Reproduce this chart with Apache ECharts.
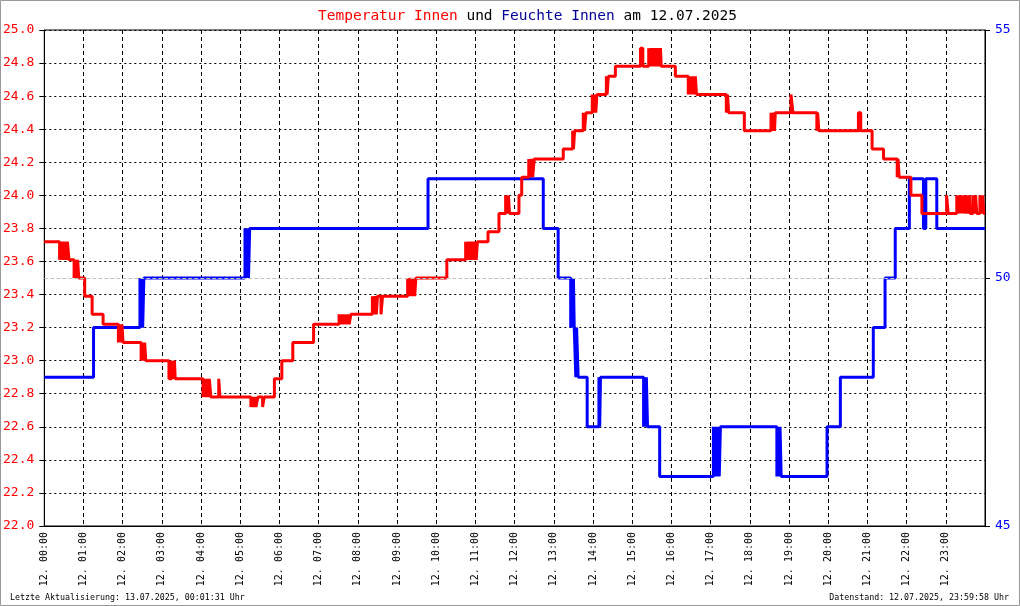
<!DOCTYPE html>
<html>
<head>
<meta charset="utf-8">
<script src="https://cdn.jsdelivr.net/npm/echarts@6/dist/echarts.min.js"></script>
<style>
html,body{margin:0;padding:0;background:#fff;}
#chart{width:1020px;height:606px;}
</style>
</head>
<body>
<div id="chart"></div>
<script>
// Hours of the day (decimal) at which a reading changes, and the reading from then on
const humTimes = [0, 1.256,
  2.44, 2.46, 2.49, 2.51, 2.54,
  5.12, 5.15, 5.18, 5.21, 5.24,
  9.79, 12.73, 13.11,
  13.43, 13.45, 13.48, 13.50, 13.52,
  13.56, 13.58, 13.62, 13.85,
  14.15, 14.17, 14.19,
  15.29, 15.31, 15.34, 15.36, 15.39, 15.70,
  17.07, 17.10, 17.13, 17.16, 17.19, 17.22, 17.25,
  18.69, 18.71, 18.74, 18.77, 18.80,
  19.97, 20.31, 21.15, 21.45, 21.71, 22.07, 22.43, 22.49, 22.77, 24];
const humValues = [48, 49,
  50, 49, 50, 49, 50,
  51, 50, 51, 50, 51,
  52, 51, 50,
  49, 50, 49, 50, 49,
  48, 49, 48, 47,
  48, 47, 48,
  47, 48, 47, 48, 47, 46,
  47, 46, 47, 46, 47, 46, 47,
  46, 47, 46, 47, 46,
  47, 48, 49, 50, 51, 52, 51, 52, 51, 51];

const tempTimes = [0,
  0.39, 0.43, 0.47, 0.51, 0.55, 0.59, 0.63,
  0.76, 0.79, 0.82, 0.85, 0.88,
  1.03, 1.22, 1.50,
  1.89, 1.92, 1.95, 1.98, 2.01,
  2.47, 2.50, 2.53, 2.56, 2.59,
  3.18, 3.25, 3.27, 3.32, 3.34,
  4.05, 4.08, 4.11, 4.14, 4.18, 4.21, 4.25,
  4.45, 4.48,
  5.27, 5.30, 5.33, 5.37, 5.40, 5.45,
  5.57, 5.61,
  5.87, 6.06, 6.34, 6.87,
  7.52, 7.55, 7.59, 7.62, 7.66, 7.70, 7.74, 7.78, 7.82,
  8.37, 8.40, 8.43, 8.47, 8.50, 8.59, 8.63,
  9.27, 9.30, 9.34, 9.38, 9.42, 9.45, 9.48,
  10.27,
  10.75, 10.78, 10.82, 10.86, 10.90, 10.94, 10.98, 11.02, 11.05,
  11.32, 11.60,
  11.77, 11.80, 11.84, 11.87,
  12.11, 12.18,
  12.36, 12.39, 12.43, 12.46, 12.50,
  13.24,
  13.48, 13.50, 13.53,
  13.75, 13.78, 13.82,
  13.98, 14.01, 14.04, 14.07, 14.10,
  14.34, 14.36, 14.39,
  14.57,
  15.21, 15.27,
  15.42, 15.45, 15.48, 15.52, 15.55, 15.58, 15.61, 15.64, 15.67, 15.70, 15.72, 15.74,
  16.10,
  16.43, 16.46, 16.50, 16.54, 16.58, 16.61, 16.64,
  17.40, 17.43, 17.46,
  17.86,
  18.54, 18.57, 18.60, 18.63, 18.65,
  19.05, 19.10,
  19.71, 19.73, 19.76,
  20.77, 20.83,
  21.12, 21.41,
  21.76, 21.78, 21.81,
  22.11, 22.39,
  23.02, 23.06,
  23.28, 23.31, 23.34, 23.37, 23.40, 23.43, 23.46, 23.50, 23.53, 23.57, 23.60, 23.62,
  23.69, 23.72, 23.76, 23.79,
  23.87, 23.92, 23.94, 23.97,
  24];
const tempValues = [23.72,
  23.61, 23.72, 23.61, 23.72, 23.61, 23.72, 23.61,
  23.50, 23.61, 23.50, 23.61, 23.50,
  23.39, 23.28, 23.22,
  23.11, 23.22, 23.11, 23.22, 23.11,
  23.00, 23.11, 23.00, 23.11, 23.00,
  22.89, 23.00, 22.89, 23.00, 22.89,
  22.78, 22.89, 22.78, 22.89, 22.78, 22.89, 22.78,
  22.89, 22.78,
  22.72, 22.78, 22.72, 22.78, 22.72, 22.78,
  22.72, 22.78,
  22.89, 23.00, 23.11, 23.22,
  23.28, 23.22, 23.28, 23.22, 23.28, 23.22, 23.28, 23.22, 23.28,
  23.39, 23.28, 23.39, 23.28, 23.39, 23.28, 23.39,
  23.50, 23.39, 23.50, 23.39, 23.50, 23.39, 23.50,
  23.61,
  23.72, 23.61, 23.72, 23.61, 23.72, 23.61, 23.72, 23.61, 23.72,
  23.78, 23.89,
  24.00, 23.89, 24.00, 23.89,
  24.00, 24.11,
  24.22, 24.11, 24.22, 24.11, 24.22,
  24.28,
  24.39, 24.28, 24.39,
  24.50, 24.39, 24.50,
  24.61, 24.50, 24.61, 24.50, 24.61,
  24.72, 24.61, 24.72,
  24.78,
  24.89, 24.78,
  24.89, 24.78, 24.89, 24.78, 24.89, 24.78, 24.89, 24.78, 24.89, 24.78, 24.89, 24.78,
  24.72,
  24.61, 24.72, 24.61, 24.72, 24.61, 24.72, 24.61,
  24.50, 24.61, 24.50,
  24.39,
  24.50, 24.39, 24.50, 24.39, 24.50,
  24.61, 24.50,
  24.39, 24.50, 24.39,
  24.50, 24.39,
  24.28, 24.22,
  24.11, 24.22, 24.11,
  24.00, 23.89,
  24.00, 23.89,
  24.00, 23.89, 24.00, 23.89, 24.00, 23.89, 24.00, 23.89, 24.00, 23.89, 24.00, 23.89,
  24.00, 23.89, 24.00, 23.89,
  24.00, 23.89, 24.00, 23.89,
  23.89];

const dayLabel = '12.';
const titleParts = ['Temperatur Innen', 'und', 'Feuchte Innen', 'am 12.07.2025'];
const footerLeft = 'Letzte Aktualisierung: 13.07.2025, 00:01:31 Uhr';
const footerRight = 'Datenstand: 12.07.2025, 23:59:58 Uhr';

const MONO = 'DejaVu Sans Mono';
const zip = (a, b) => a.map((t, i) => [t, b[i]]);

const chart = echarts.init(document.getElementById('chart'));
chart.setOption({
  animation: false,
  backgroundColor: '#fff',
  title: {
    left: 313, top: 4,
    text: '{r|' + titleParts[0] + '} {k|' + titleParts[1] + '} {b|' + titleParts[2] + '} {k|' + titleParts[3] + '}',
    textStyle: {
      fontFamily: MONO, fontSize: 14.5, fontWeight: 'normal',
      rich: {
        r: {color: '#ff0000', fontFamily: MONO, fontSize: 14.5},
        k: {color: '#000000', fontFamily: MONO, fontSize: 14.5},
        b: {color: '#000099', fontFamily: MONO, fontSize: 14.5}
      }
    }
  },
  grid: {left: 43, right: 35, top: 30, bottom: 80, show: true, borderColor: '#000', borderWidth: 1, backgroundColor: 'transparent'},
  xAxis: {
    type: 'value', min: 0, max: 24, interval: 1,
    axisLine: {lineStyle: {color: '#000', width: 1}},
    axisTick: {show: false},
    axisLabel: {
      rotate: 90, margin: 6, color: '#000', fontFamily: MONO, fontSize: 10,
      showMaxLabel: false,
      formatter: v => v >= 24 ? '' : dayLabel + ' ' + String(v).padStart(2, '0') + ':00'
    },
    splitLine: {show: true, lineStyle: {color: '#000', width: 1, type: [4, 3]}}
  },
  yAxis: [
    {
      type: 'value', min: 22, max: 25, interval: 0.2, position: 'left',
      axisLine: {show: true, lineStyle: {color: '#000'}},
      axisTick: {show: true, length: 5, lineStyle: {color: '#000'}},
      axisLabel: {color: '#ff0000', fontFamily: MONO, fontSize: 13, margin: 10, formatter: v => v.toFixed(1)},
      splitLine: {show: true, lineStyle: {color: '#000', width: 1, type: [2, 3]}}
    },
    {
      type: 'value', min: 45, max: 55, interval: 5, position: 'right',
      axisLine: {show: true, lineStyle: {color: '#000'}},
      axisTick: {show: true, length: 5, lineStyle: {color: '#000'}},
      axisLabel: {color: '#0000ff', fontFamily: MONO, fontSize: 13, margin: 10},
      splitLine: {show: false}
    }
  ],
  graphic: [
    {type: 'rect', shape: {x: 0.5, y: 0.5, width: 1019, height: 605}, style: {fill: 'none', stroke: '#999', lineWidth: 1}, silent: true},
    {type: 'text', left: 10, top: 594, style: {text: footerLeft, fill: '#000', font: '8.3px "DejaVu Sans Mono"'}},
    {type: 'text', right: 11, top: 594, style: {text: footerRight, fill: '#000', font: '8.3px "DejaVu Sans Mono"', textAlign: 'right'}}
  ],
  series: [
    {
      type: 'line', name: 'Feuchte Innen', yAxisIndex: 1, step: 'end', showSymbol: false, symbol: 'none',
      data: zip(humTimes, humValues),
      lineStyle: {color: '#0000ff', width: 3},
      markLine: {
        silent: true, symbol: 'none', label: {show: false},
        lineStyle: {color: '#c0c0c0', type: [4, 2], width: 1},
        data: [{yAxis: 50}]
      },
      z: 2
    },
    {
      type: 'line', name: 'Temperatur Innen', yAxisIndex: 0, step: 'end', showSymbol: false, symbol: 'none',
      data: zip(tempTimes, tempValues),
      lineStyle: {color: '#ff0000', width: 3},
      z: 3
    }
  ]
});
</script>
</body>
</html>
